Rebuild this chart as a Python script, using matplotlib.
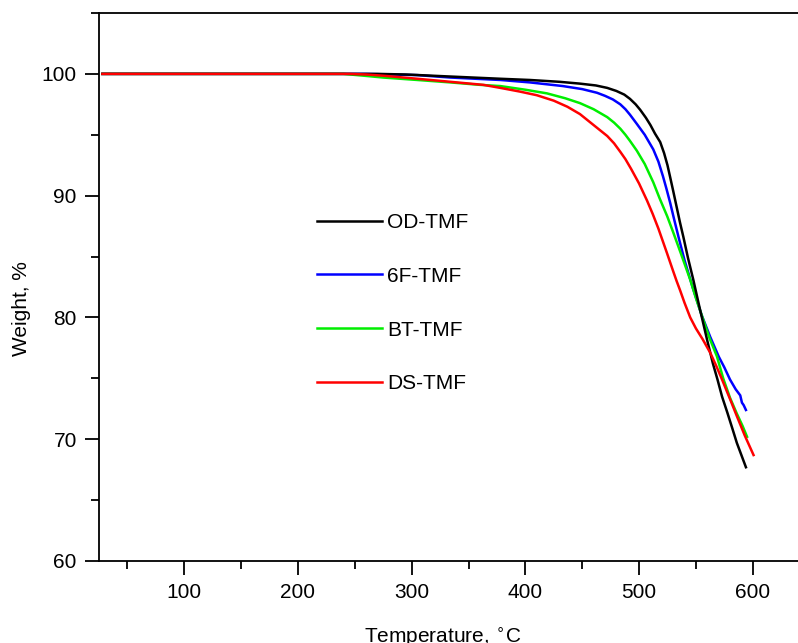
import matplotlib
matplotlib.use("Agg")
import matplotlib.pyplot as plt
from matplotlib.ticker import MultipleLocator

plt.rcParams['font.family'] = ['Liberation Sans', 'DejaVu Sans']
plt.rcParams['font.size'] = 15

# TGA curves
od_t = [28, 100, 200, 270, 295, 330, 378, 404, 430, 448, 462, 472, 480, 487, 492, 497, 501,
        506, 510, 514, 518.6, 522, 525, 527.4, 530, 533, 536, 539, 543, 547.7, 553, 560, 565,
        569, 573, 577.6, 582, 586, 590, 594]
od_w = [100, 100, 100, 100, 99.95, 99.8, 99.6, 99.5, 99.35, 99.2, 99.05, 98.85, 98.6, 98.3, 97.95, 97.5, 97.05,
        96.4, 95.8, 95.1, 94.4, 93.5, 92.5, 91.5, 90.4, 89.1, 87.8, 86.6, 84.9, 83.1, 80.9, 78.1, 76.2,
        74.9, 73.5, 72.2, 70.9, 69.7, 68.7, 67.7]

f6_t = [28, 200, 260, 305, 334, 378, 404, 433, 450, 463, 470, 477, 483.5, 488, 492, 498, 505,
        512.5, 517, 521, 524, 527.4, 531, 535, 540, 547.7, 555, 562.6, 570, 575, 580, 585, 589,
        590.5, 592, 594]
f6_w = [100, 100, 100, 99.9, 99.7, 99.5, 99.3, 99.0, 98.75, 98.45, 98.2, 97.9, 97.5, 97.1, 96.65, 95.9, 95.0,
        93.8, 92.8, 91.6, 90.6, 89.4, 88.0, 86.5, 84.7, 82.3, 80.2, 78.4, 76.8, 75.9, 74.9, 74.1, 73.6,
        73.0, 72.8, 72.4]

bt_t = [28, 200, 240, 258, 275, 305, 334, 360, 378, 400, 419, 435, 448, 460, 472, 478, 483.5,
        488, 492, 498, 505, 512.5, 518, 524.8, 530, 537, 545, 550, 556.5, 562, 568.5, 574, 580,
        586, 591, 595]
bt_w = [100, 100, 100, 99.85, 99.7, 99.5, 99.3, 99.1, 99.0, 98.7, 98.4, 98.0, 97.6, 97.1, 96.45, 96.0, 95.5,
        95.0, 94.5, 93.7, 92.6, 91.1, 89.8, 88.3, 87.0, 85.2, 83.1, 81.6, 79.8, 78.3, 76.8, 75.0, 73.4,
        72.1, 71.1, 70.2]

ds_t = [28, 200, 245, 260, 275, 305, 334, 363, 378, 395, 410, 425, 437, 448, 460, 472, 478,
        483.5, 488, 493, 500, 507, 512, 517, 520, 524.5, 530, 533, 536.2, 540, 545, 550, 556,
        562.6, 568, 573, 580, 586, 593, 600.7]
ds_w = [100, 100, 100, 99.95, 99.85, 99.6, 99.35, 99.1, 98.85, 98.55, 98.25, 97.8, 97.3, 96.7, 95.8, 94.9, 94.3,
        93.6, 93.0, 92.2, 91.0, 89.6, 88.5, 87.3, 86.5, 85.3, 83.8, 83.0, 82.2, 81.2, 80.0, 79.1, 78.2,
        77.1, 76.0, 74.9, 73.3, 71.9, 70.3, 68.7]

fig = plt.figure(figsize=(7.98, 6.43), dpi=100)
ax = fig.add_axes([99/798, 1 - 561/643, 710.6/798, 548/643])

ax.plot(f6_t, f6_w, color='#0000ff', lw=1.8, label='6F-TMF')
ax.plot(bt_t, bt_w, color='#00ee00', lw=1.8, label='BT-TMF')
ax.plot(od_t, od_w, color='black', lw=1.8, label='OD-TMF')
ax.plot(ds_t, ds_w, color='#ff0000', lw=1.8, label='DS-TMF')

ax.set_xlim(25, 650)
ax.set_ylim(60, 105)
ax.xaxis.set_major_locator(MultipleLocator(100))
ax.xaxis.set_minor_locator(MultipleLocator(50))
ax.yaxis.set_major_locator(MultipleLocator(10))
ax.yaxis.set_minor_locator(MultipleLocator(5))
ax.tick_params(which='major', direction='out', length=10, width=1.3, labelsize=15, pad=6)
ax.tick_params(which='minor', direction='out', length=6, width=1.3)
ax.tick_params(top=False, right=False)
for s in ax.spines.values():
    s.set_linewidth(1.3)

ax.set_xlabel(r'Temperature, $^{\circ}$C', fontsize=15)
ax.xaxis.set_label_coords(0.484, -0.118)
ax.set_ylabel('Weight, %', fontsize=15)
ax.yaxis.set_label_coords(-0.095, 0.46)

h, l = ax.get_legend_handles_labels()
order = [2, 0, 1, 3]
ax.legend([h[i] for i in order], [l[i] for i in order], frameon=False,
          loc='upper left', bbox_to_anchor=(317/798, 1 - 213/643),
          bbox_transform=fig.transFigure, borderpad=0, borderaxespad=0,
          handlelength=3.1, handletextpad=0.25, labelspacing=1.67, fontsize=15)

fig.savefig('out.png', dpi=100)
